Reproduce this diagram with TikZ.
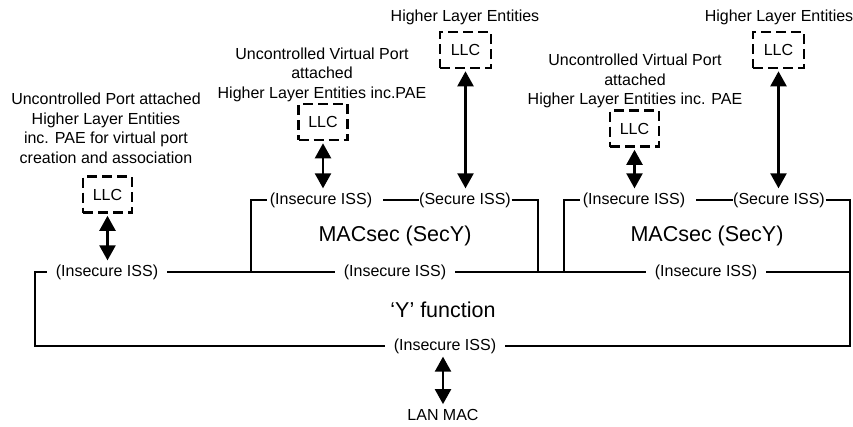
\documentclass[tikz,border=0pt]{standalone}
\usepackage{fontspec}
\setmainfont{Liberation Sans}
\usetikzlibrary{arrows.meta}

\begin{document}
\begin{tikzpicture}[x=1pt,y=-1pt,
  every node/.style={font=\fontsize{16}{19.5}\selectfont, inner sep=0pt},
  boxline/.style={line width=1.3pt},
  iss/.style={inner xsep=9pt, inner ysep=1pt},
  sec/.style={inner xsep=0.5pt, inner ysep=1pt},
  llc/.style={draw, line width=2.6pt, dash pattern=on 10pt off 5pt,
              minimum width=49pt, minimum height=36pt},
  big/.style={font=\fontsize{21.5}{26}\selectfont},
  caption/.style={align=center},
  biarrow/.style={line width=2.3pt, shorten <=2pt, shorten >=3pt,
    {Triangle[length=15pt,width=16pt]}-{Triangle[length=15pt,width=16pt]}}
]
\useasboundingbox (0,0) rectangle (853,426);

% ---- 'Y' function ----
\coordinate (yTL) at (35,272);
\coordinate (yTR) at (850,272);
\coordinate (yBL) at (35,346);
\coordinate (yBR) at (850,346);
\node[iss] (yL) at (107,272) {(Insecure ISS)};
\node[iss] (yM) at (395,272) {(Insecure ISS)};
\node[iss] (yR) at (706,272) {(Insecure ISS)};
\node[iss] (yB) at (445,346) {(Insecure ISS)};
\node[big] (yfun) at (443,310) {‘Y’ function};
\draw[boxline] (yL.west) -- (yTL) -- (yBL) -- (yB.west);
\draw[boxline] (yB.east) -- (yBR) -- (yTR) -- (yR.east);
\draw[boxline] (yL.east) -- (yM.west);
\draw[boxline] (yM.east) -- (yR.west);

% ---- first SecY ----
\coordinate (s1TL) at (251,200);
\coordinate (s1TR) at (538,200);
\coordinate (s1BL) at (251,272);
\coordinate (s1BR) at (538,272);
\node[iss, inner xsep=3pt] (s1i) at (321,200) {(Insecure ISS)};
\node[sec] (s1s) at (465,200) {(Secure ISS)};
\node[big] (s1) at (395,236) {MACsec (SecY)};
\draw[boxline] (s1i.west) -- (s1TL) -- (s1BL);
\draw[boxline, shorten <=8pt] (s1i.east) -- (s1s.west);
\draw[boxline] (s1s.east) -- (s1TR) -- (s1BR);

% ---- second SecY ----
\coordinate (s2TL) at (564,200);
\coordinate (s2TR) at (850,200);
\coordinate (s2BL) at (564,272);
\coordinate (s2BR) at (850,272);
\node[iss, inner xsep=3pt] (s2i) at (634,200) {(Insecure ISS)};
\node[sec] (s2s) at (779,200) {(Secure ISS)};
\node[big] (s2) at (707,236) {MACsec (SecY)};
\draw[boxline] (s2i.west) -- (s2TL) -- (s2BL);
\draw[boxline, shorten <=8pt] (s2i.east) -- (s2s.west);
\draw[boxline] (s2s.east) -- (s2TR) -- (s2BR);

% ---- uncontrolled port ----
\node[caption] (capL) at (106,128.5) {Uncontrolled Port attached\\Higher Layer Entities\\inc. PAE for virtual port\\creation and association};
\node[llc] (llcL) at (107.5,194.5) {LLC};
\draw[biarrow] (llcL.south) -- (llcL.south |- yL.north);

% ---- virtual ports ----
\node[caption] (capV1) at (322,74.5) {Uncontrolled Virtual Port\\attached\\Higher Layer Entities inc.PAE};
\node[llc] (llcV1) at (323,122) {LLC};
\draw[biarrow] (llcV1.south) -- (llcV1.south |- s1i.north);

\node[caption] (capV2) at (635,81) {Uncontrolled Virtual Port\\attached\\Higher Layer Entities inc. PAE};
\node[llc] (llcV2) at (634.5,128.5) {LLC};
\draw[biarrow] (llcV2.south) -- (llcV2.south |- s2i.north);

% ---- controlled ports ----
\node (capH1) at (465,17) {Higher Layer Entities};
\node[llc, minimum width=51pt] (llcH1) at (465.5,50) {LLC};
\draw[biarrow] (llcH1.south) -- (llcH1.south |- s1s.north);

\node (capH2) at (779,17) {Higher Layer Entities};
\node[llc, minimum width=51pt] (llcH2) at (778.5,50) {LLC};
\draw[biarrow] (llcH2.south) -- (llcH2.south |- s2s.north);

% ---- LAN MAC ----
\node (lan) at (443,415) {LAN MAC};
\draw[biarrow, shorten >=5pt] (lan.north |- yB.south) -- (lan.north);
\end{tikzpicture}
\end{document}
